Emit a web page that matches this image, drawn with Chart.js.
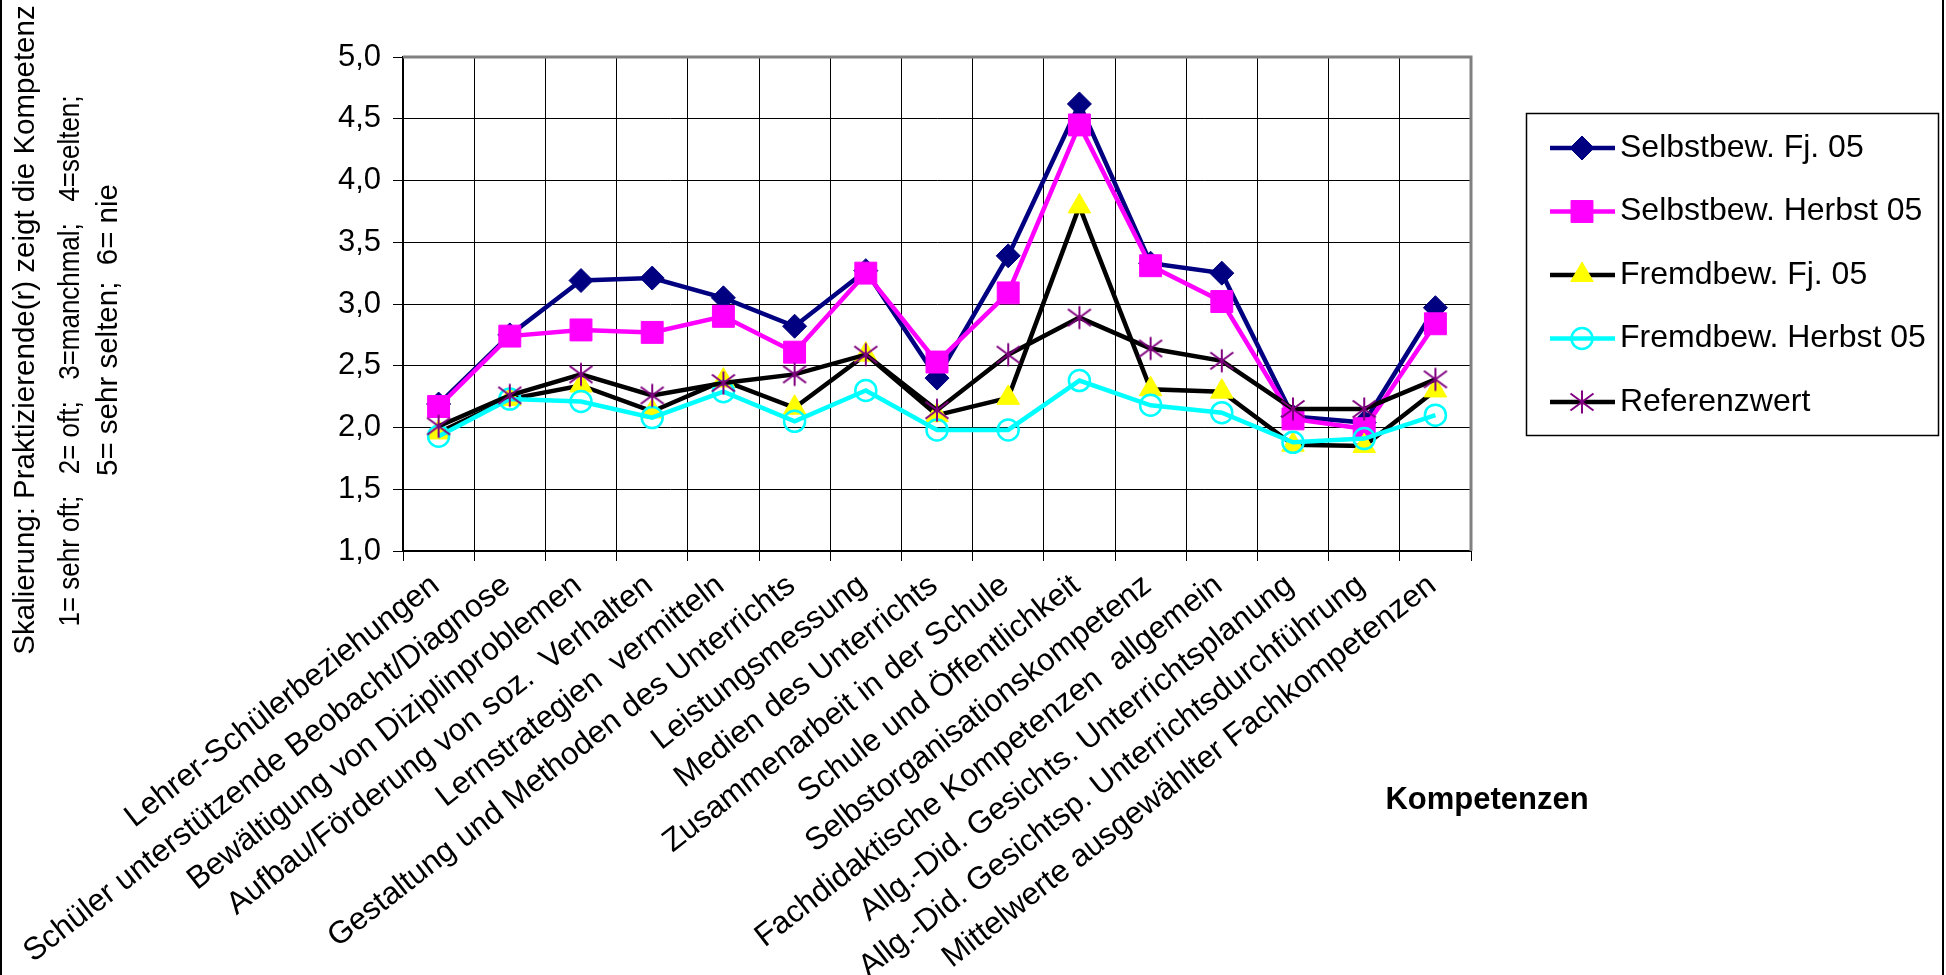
<!DOCTYPE html>
<html>
<head>
<meta charset="utf-8">
<title>Kompetenzen</title>
<script src="https://cdn.jsdelivr.net/npm/chart.js@4.4.1/dist/chart.umd.min.js"></script>
<style>
  html, body { margin: 0; padding: 0; background: #fff; overflow: hidden; }
  #wrap { width: 1946px; height: 975px; position: relative; }
</style>
</head>
<body>
<div id="wrap"><canvas id="chart" width="1946" height="975"></canvas></div>
<script>
// Categories (x axis)
const competencies = [
  'Lehrer-Schülerbeziehungen',
  'Schüler unterstützende Beobacht/Diagnose',
  'Bewältigung von Diziplinproblemen',
  'Aufbau/Förderung von soz.  Verhalten',
  'Lernstrategien  vermitteln',
  'Gestaltung und Methoden des Unterrichts',
  'Leistungsmessung',
  'Medien des Unterrichts',
  'Zusammenarbeit in der Schule',
  'Schule und Öffentlichkeit',
  'Selbstorganisationskompetenz',
  'Fachdidaktische Kompetenzen  allgemein',
  'Allg.-Did. Gesichts. Unterrichtsplanung',
  'Allg.-Did. Gesichtsp. Unterrichtsdurchführung',
  'Mittelwerte ausgewählter Fachkompetenzen'
];

// Series values
const selbstFj05     = [2.19, 2.75, 3.19, 3.21, 3.05, 2.82, 3.27, 2.40, 3.39, 4.62, 3.33, 3.25, 2.09, 2.04, 2.97];
const selbstHerbst05 = [2.17, 2.74, 2.79, 2.77, 2.90, 2.61, 3.25, 2.53, 3.09, 4.45, 3.31, 3.02, 2.07, 1.99, 2.84];
const fremdFj05      = [1.96, 2.23, 2.34, 2.13, 2.38, 2.16, 2.59, 2.10, 2.24, 3.79, 2.31, 2.29, 1.86, 1.85, 2.30];
const fremdHerbst05  = [1.93, 2.23, 2.21, 2.08, 2.29, 2.05, 2.30, 1.98, 1.98, 2.38, 2.18, 2.12, 1.88, 1.91, 2.10];
const referenzwert   = [2.01, 2.26, 2.43, 2.26, 2.36, 2.43, 2.59, 2.14, 2.59, 2.89, 2.64, 2.54, 2.15, 2.15, 2.39];

const seriesNames = ['Selbstbew. Fj. 05', 'Selbstbew. Herbst 05', 'Fremdbew. Fj. 05', 'Fremdbew. Herbst 05', 'Referenzwert'];

// Axis texts
const yAxisMin = 1, yAxisMax = 5, yAxisStep = 0.5;
const yTitleLines = [
  'Skalierung: Praktizierende(r) zeigt die Kompetenz',
  '1= sehr oft;   2= oft;   3=manchmal;   4=selten;',
  '5= sehr selten;  6= nie'
];
const xTitle = 'Kompetenzen';

const FONT = "'Liberation Sans', Arial, Helvetica, sans-serif";
Chart.defaults.font.family = FONT;
Chart.defaults.color = '#000';

// Asterisk marker (vertical bar plus a flat X)
const asteriskMarker = (() => {
  const c = document.createElement('canvas');
  c.width = 26; c.height = 26;
  const g = c.getContext('2d');
  g.strokeStyle = '#800080';
  g.lineWidth = 2;
  g.beginPath();
  g.moveTo(13, 1.5);  g.lineTo(13, 24.5);
  g.moveTo(1.5, 4.5); g.lineTo(24.5, 21.5);
  g.moveTo(1.5, 21.5); g.lineTo(24.5, 4.5);
  g.stroke();
  return c;
})();

// Plot frame: grey top/right edges and the outer border lines
const framePlugin = {
  id: 'frame',
  beforeDatasetsDraw(chart) {
    const { ctx, chartArea: a } = chart;
    ctx.save();
    ctx.strokeStyle = '#808080';
    ctx.lineWidth = 3;
    ctx.beginPath();
    ctx.moveTo(a.left, a.top);
    ctx.lineTo(a.right, a.top);
    ctx.lineTo(a.right, a.bottom);
    ctx.stroke();
    ctx.restore();
  },
  afterDraw(chart) {
    const ctx = chart.ctx;
    ctx.save();
    ctx.strokeStyle = '#000';
    ctx.lineWidth = 2;
    ctx.beginPath();
    ctx.moveTo(1, 0); ctx.lineTo(1, chart.height);
    ctx.moveTo(chart.width - 3, 0); ctx.lineTo(chart.width - 3, chart.height);
    ctx.stroke();
    ctx.restore();
  }
};

// Axis titles (the y title is three rotated lines, each kept within its column length)
const titlePlugin = {
  id: 'titles',
  afterDraw(chart) {
    const ctx = chart.ctx;
    ctx.save();
    ctx.fillStyle = '#000';
    ctx.font = '29.5px ' + FONT;
    ctx.textAlign = 'center';
    ctx.textBaseline = 'alphabetic';
    const baseX = [34, 79, 117];
    const centerY = [330, 361, 330];
    const maxLen = [660, 531, 300];
    yTitleLines.forEach((t, i) => {
      const w = ctx.measureText(t).width;
      const k = Math.min(1, maxLen[i] / w);
      ctx.save();
      ctx.translate(baseX[i], centerY[i]);
      ctx.rotate(-Math.PI / 2);
      ctx.scale(k, 1);
      ctx.fillText(t, 0, 0);
      ctx.restore();
    });
    ctx.font = 'bold 31px ' + FONT;
    ctx.textBaseline = 'middle';
    ctx.fillText(xTitle, 1487, 800);
    ctx.restore();
  }
};

// Legend box on the right
const legendPlugin = {
  id: 'legendBox',
  afterDraw(chart) {
    const ctx = chart.ctx;
    ctx.save();
    ctx.strokeStyle = '#000';
    ctx.lineWidth = 1.5;
    ctx.strokeRect(1526.5, 113.5, 412, 322);
    chart.data.datasets.forEach((ds, i) => {
      const y = 148 + i * 63.5;
      ctx.strokeStyle = ds.borderColor;
      ctx.lineWidth = ds.borderWidth;
      ctx.beginPath();
      ctx.moveTo(1550, y);
      ctx.lineTo(1615, y);
      ctx.stroke();
      ctx.fillStyle = ds.pointBackgroundColor;
      ctx.strokeStyle = ds.pointBorderColor;
      ctx.lineWidth = ds.pointBorderWidth;
      Chart.helpers.drawPoint(ctx, {
        pointStyle: ds.pointStyle, radius: ds.pointRadius, rotation: 0, borderWidth: ds.pointBorderWidth
      }, 1582, y);
      ctx.fillStyle = '#000';
      ctx.font = '32px ' + FONT;
      ctx.textAlign = 'left';
      ctx.textBaseline = 'middle';
      ctx.fillText(ds.label, 1620, y);
    });
    ctx.restore();
  }
};

const datasets = [
  {
    label: seriesNames[0], data: selbstFj05, order: 5,
    borderColor: '#000080', borderWidth: 4.5,
    pointStyle: 'rectRot', pointRadius: 12,
    pointBackgroundColor: '#000080', pointBorderColor: '#000080', pointBorderWidth: 1
  },
  {
    label: seriesNames[1], data: selbstHerbst05, order: 4,
    borderColor: '#FF00FF', borderWidth: 4.5,
    pointStyle: 'rect', pointRadius: 15.5,
    pointBackgroundColor: '#FF00FF', pointBorderColor: '#FF00FF', pointBorderWidth: 1
  },
  {
    label: seriesNames[2], data: fremdFj05, order: 3,
    borderColor: '#000000', borderWidth: 4.5,
    pointStyle: 'triangle', pointRadius: 13,
    pointBackgroundColor: '#FFFF00', pointBorderColor: '#FFFF00', pointBorderWidth: 1
  },
  {
    label: seriesNames[3], data: fremdHerbst05, order: 2,
    borderColor: '#00FFFF', borderWidth: 4.5,
    pointStyle: 'circle', pointRadius: 10.5,
    pointBackgroundColor: 'rgba(255,255,255,0)', pointBorderColor: '#00FFFF', pointBorderWidth: 2.5
  },
  {
    label: seriesNames[4], data: referenzwert, order: 1,
    borderColor: '#000000', borderWidth: 4.5,
    pointStyle: asteriskMarker, pointRadius: 11.5,
    pointBackgroundColor: '#800080', pointBorderColor: '#800080', pointBorderWidth: 2
  }
];
datasets.forEach(d => { d.tension = 0; d.fill = false; d.pointHoverRadius = d.pointRadius; });

new Chart(document.getElementById('chart'), {
  type: 'line',
  data: { labels: competencies, datasets },
  options: {
    responsive: false,
    animation: false,
    devicePixelRatio: 1,
    events: [],
    layout: { padding: { left: 0, right: 475, top: 57, bottom: 0 } },
    plugins: { legend: { display: false }, tooltip: { enabled: false } },
    scales: {
      x: {
        offset: true,
        grid: { offset: true, color: '#000', lineWidth: 1, tickLength: 10, tickColor: '#000' },
        border: { color: '#000', width: 2 },
        ticks: { autoSkip: false, minRotation: 38, maxRotation: 38, padding: 6, labelOffset: -3, font: { size: 31.5 } },
        afterFit(scale) { scale.height = 424; }
      },
      y: {
        min: yAxisMin, max: yAxisMax,
        grid: { color: '#000', lineWidth: 1, tickLength: 10, tickColor: '#000' },
        border: { color: '#000', width: 1.5 },
        ticks: {
          stepSize: yAxisStep, padding: 12, font: { size: 31 },
          callback: v => v.toFixed(1).replace('.', ',')
        },
        afterFit(scale) { scale.width = 403; }
      }
    }
  },
  plugins: [framePlugin, titlePlugin, legendPlugin]
});
</script>
</body>
</html>
